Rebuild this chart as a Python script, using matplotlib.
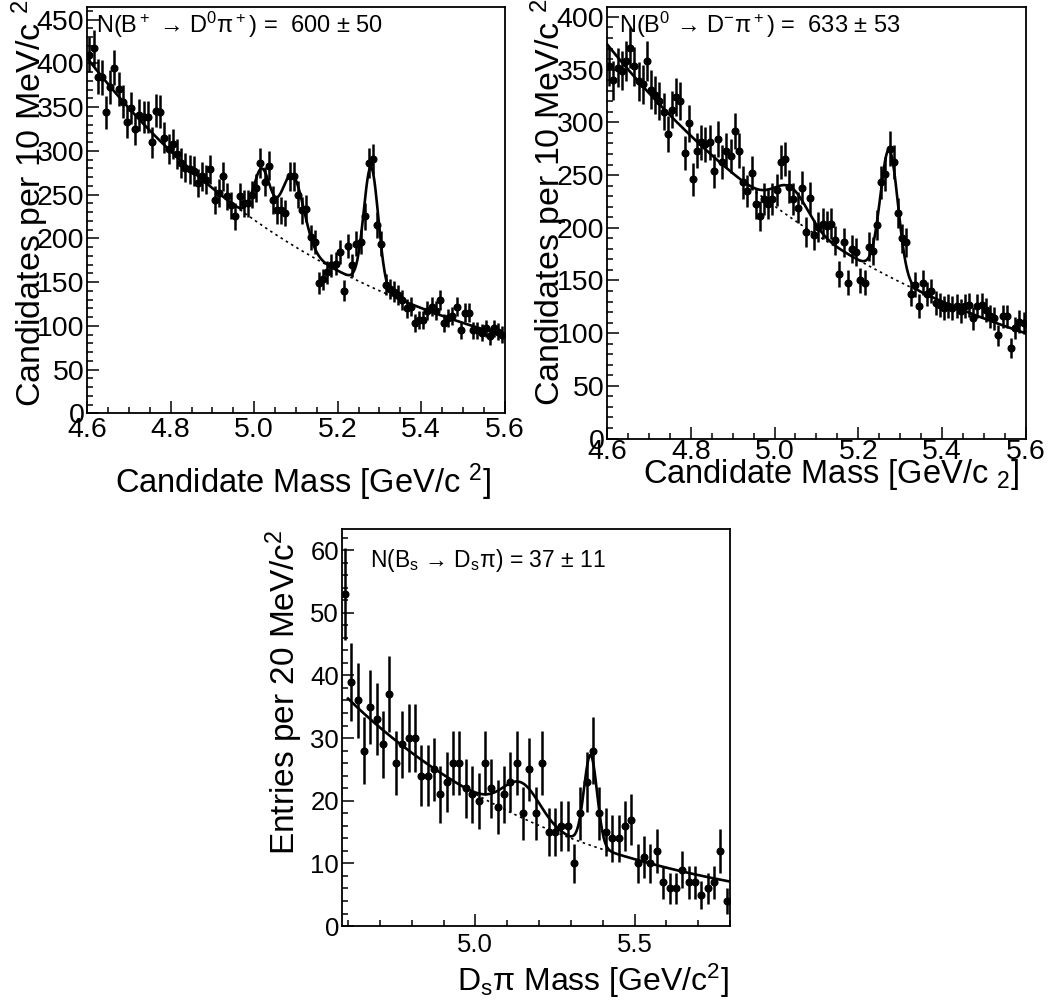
"""
Invariant-mass spectra for B+ -> D0 pi+, B0 -> D- pi+ and Bs -> Ds pi
with the fitted shapes (exponential background + reflections + signal).
"""
import numpy as np
import matplotlib
matplotlib.use("Agg")
import matplotlib.pyplot as plt
from matplotlib.ticker import MultipleLocator, FormatStrFormatter

plt.rcParams["font.family"] = ["Liberation Sans", "DejaVu Sans"]
plt.rcParams["mathtext.fontset"] = "custom"
plt.rcParams["mathtext.rm"] = "Liberation Sans"
plt.rcParams["mathtext.it"] = "Liberation Sans:italic"
plt.rcParams["mathtext.default"] = "regular"

# ============================================================
# DATA
# ============================================================
# B+ -> D0 pi+ : 10 MeV bins, 4.6 - 5.6 GeV
BPLUS_RANGE = (4.60, 5.60)
BPLUS_COUNTS = [
    410, 418, 385, 384, 344, 373, 395, 371, 356, 333,
    349, 325, 341, 339, 339, 310, 346, 345, 315, 302,
    308, 296, 286, 281, 279, 277, 263, 271, 267, 279,
    244, 252, 271, 248, 238, 225, 248, 240, 240, 250,
    258, 286, 265, 283, 244, 232, 232, 229, 271, 271,
    250, 232, 234, 201, 196, 149, 153, 161, 169, 171,
    184, 140, 191, 169, 194, 196, 225, 286, 291, 215,
    194, 147, 142, 139, 135, 130, 120, 122, 103, 107,
    107, 117, 122, 117, 130, 103, 109, 111, 122, 95,
    115, 115, 95, 95, 92, 97, 88, 97, 93, 90,
]
BPLUS_YIELD, BPLUS_YIELD_ERR = 600, 50
BPLUS_BKG = (406.0, 1.52)                                   # value at 4.6, slope
BPLUS_REFL = [(5.019, 0.020, 63.0), (5.092, 0.027, 80.0)]   # mean, sigma, height
BPLUS_SIG = (5.280, 0.0175)                                 # mean, sigma

# B0 -> D- pi+ : 10 MeV bins, 4.6 - 5.6 GeV
BZERO_RANGE = (4.60, 5.60)
BZERO_COUNTS = [
    353, 340, 352, 349, 358, 371, 353, 339, 336, 358,
    331, 326, 320, 310, 289, 312, 324, 320, 271, 299,
    246, 273, 281, 279, 281, 254, 284, 262, 273, 268,
    292, 273, 243, 235, 252, 223, 211, 227, 223, 227,
    236, 262, 265, 239, 227, 219, 238, 196, 228, 193,
    201, 204, 202, 204, 188, 156, 186, 148, 180, 177,
    150, 148, 182, 178, 203, 243, 251, 275, 262, 214,
    190, 186, 137, 146, 126, 148, 137, 140, 129, 127,
    124, 126, 124, 126, 121, 126, 127, 114, 126, 127,
    122, 116, 114, 98, 116, 116, 86, 105, 111, 110,
]
BZERO_YIELD, BZERO_YIELD_ERR = 633, 53
BZERO_BKG = (374.0, 1.32)
BZERO_REFL = [(5.040, 0.040, 29.0)]
BZERO_SIG = (5.274, 0.021)

# Bs -> Ds pi : 20 MeV bins, 4.58 - 5.80 GeV
BS_RANGE = (4.58, 5.80)
BS_COUNTS = [
    53, 39, 36, 28, 35, 33, 29, 37, 26, 29,
    30, 30, 24, 24, 25, 21, 23, 26, 26, 22,
    21, 20, 26, 22, 19, 21, 23, 26, 18, 25,
    18, 26, 15, 15, 16, 16, 10, 18, 23, 28,
    18, 15, 14, 14, 16, 17, 10, 11, 10, 12,
    7, 6, 6, 9, 7, 7, 5, 6, 7, 12,
    4,
]
BS_YIELD, BS_YIELD_ERR = 37, 11
BS_BKG = (36.3, 1.36)
BS_REFL = [(5.145, 0.058, 5.6)]
BS_SIG = (5.362, 0.0205)

FIT_START = 4.60


# ============================================================
# FIT SHAPES
# ============================================================
def background(m, bkg):
    amp, slope = bkg
    return amp * np.exp(-slope * (m - FIT_START))


def gauss(m, mean, sigma, height):
    return height * np.exp(-0.5 * ((m - mean) / sigma) ** 2)


def total(m, bkg, refl, sig, n_sig, bin_w):
    y = background(m, bkg)
    for mean, sigma, height in refl:
        y = y + gauss(m, mean, sigma, height)
    mean, sigma = sig
    # signal height from the fitted yield and the bin width
    height = n_sig * bin_w / (sigma * np.sqrt(2 * np.pi))
    return y + gauss(m, mean, sigma, height)


# ============================================================
# DRAWING
# ============================================================
def draw_panel(ax, rng, counts, bkg, refl, sig, n_sig):
    counts = np.asarray(counts, dtype=float)
    lo, hi = rng
    bin_w = (hi - lo) / len(counts)
    centres = lo + (np.arange(len(counts)) + 0.5) * bin_w

    ax.errorbar(centres, counts, yerr=np.sqrt(counts), fmt="o", color="black",
                ms=4.8, elinewidth=1.8, capsize=0, zorder=3)

    m = np.linspace(FIT_START, hi, 1200)
    ax.plot(m, background(m, bkg), color="black", lw=1.2,
            linestyle=(0, (1.5, 2.2)), zorder=2)
    ax.plot(m, total(m, bkg, refl, sig, n_sig, bin_w), color="black",
            lw=1.9, zorder=4)
    ax.set_xlim(lo, hi)


def style_axis(ax, xmaj, xmin, ymaj, ymin, tick_size, xpad):
    ax.xaxis.set_major_locator(MultipleLocator(xmaj))
    ax.xaxis.set_minor_locator(MultipleLocator(xmin))
    ax.yaxis.set_major_locator(MultipleLocator(ymaj))
    ax.yaxis.set_minor_locator(MultipleLocator(ymin))
    ax.xaxis.set_major_formatter(FormatStrFormatter("%.1f"))
    ax.tick_params(which="both", direction="in", top=False, right=False,
                   width=1.1, labelsize=tick_size)
    ax.tick_params(which="major", length=8.5)
    ax.tick_params(which="minor", length=4.5)
    ax.tick_params(axis="x", pad=xpad)
    ax.tick_params(axis="y", pad=2)
    for sp in ax.spines.values():
        sp.set_linewidth(1.3)


fig = plt.figure(figsize=(10.49, 10.07), dpi=100)

# --- B+ -> D0 pi+
ax1 = fig.add_axes([0.0832, 0.5896, 0.3978, 0.4030])
draw_panel(ax1, BPLUS_RANGE, BPLUS_COUNTS, BPLUS_BKG, BPLUS_REFL, BPLUS_SIG,
           BPLUS_YIELD)
ax1.set_ylim(0, 464)
style_axis(ax1, 0.2, 0.05, 50, 10, 20.5, 3.0)
ax1.text(0.022, 0.995,
         r"N(B$^+$ → D$^0$$\pi^+$) =  "
         + rf"{BPLUS_YIELD} $\pm$ {BPLUS_YIELD_ERR}",
         transform=ax1.transAxes, ha="left", va="top", fontsize=17)
ax1.set_xlabel(r"Candidate Mass [GeV/c $^{2}$]", fontsize=23.5, ha="right")
ax1.xaxis.set_label_coords(0.967, -0.118)
ax1.set_ylabel(r"Candidates per 10 MeV/c $^{2}$", fontsize=24.5, ha="right")
ax1.yaxis.set_label_coords(-0.088, 1.02)

# --- B0 -> D- pi+
ax2 = fig.add_axes([0.5788, 0.5645, 0.3989, 0.4281])
draw_panel(ax2, BZERO_RANGE, BZERO_COUNTS, BZERO_BKG, BZERO_REFL, BZERO_SIG,
           BZERO_YIELD)
ax2.set_ylim(0, 409)
style_axis(ax2, 0.2, 0.05, 50, 10, 20.5, 0.0)
ax2.text(0.028, 0.995,
         r"N(B$^0$ → D$^{-}$$\pi^+$) =  "
         + rf"{BZERO_YIELD} $\pm$ {BZERO_YIELD_ERR}",
         transform=ax2.transAxes, ha="left", va="top", fontsize=17)
ax2.set_xlabel(r"Candidate Mass [GeV/c $_{2}$]", fontsize=23.5, ha="right")
ax2.xaxis.set_label_coords(0.984, -0.043)
ax2.set_ylabel(r"Candidates per 10 MeV/c $^{2}$", fontsize=24.5, ha="right")
ax2.yaxis.set_label_coords(-0.088, 1.02)

# --- Bs -> Ds pi
ax3 = fig.add_axes([0.3257, 0.0804, 0.3702, 0.3939])
draw_panel(ax3, BS_RANGE, BS_COUNTS, BS_BKG, BS_REFL, BS_SIG, BS_YIELD)
ax3.set_ylim(0, 63.3)
style_axis(ax3, 0.5, 0.1, 10, 2, 18.5, 5)
ax3.text(0.073, 0.955,
         r"N(B$_s$ → D$_s$$\pi$) = "
         + rf"{BS_YIELD} $\pm$ {BS_YIELD_ERR}",
         transform=ax3.transAxes, ha="left", va="top", fontsize=16.5)
ax3.set_xlabel(r"D$_s\pi$ Mass [GeV/c$^{2}$]", fontsize=23, ha="right")
ax3.xaxis.set_label_coords(0.998, -0.09)
ax3.set_ylabel(r"Entries per 20 MeV/c$^{2}$", fontsize=24, ha="right")
ax3.yaxis.set_label_coords(-0.094, 1.0)

fig.savefig("out.png", dpi=100)
